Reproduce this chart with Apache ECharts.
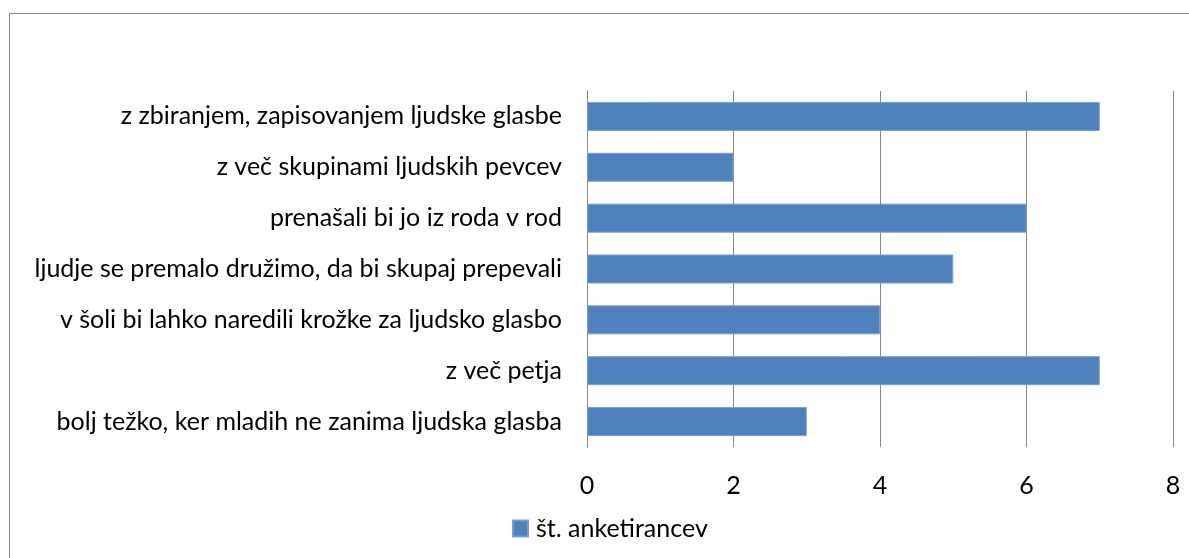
<!DOCTYPE html>
<html>
<head>
<meta charset="utf-8">
<script src="https://cdn.jsdelivr.net/npm/echarts@6/dist/echarts.min.js"></script>
<style>
  html, body { margin: 0; padding: 0; background: #fff; }
  #chart { width: 1189px; height: 558px; }
</style>
</head>
<body>
<div id="chart"></div>
<script>
// categories listed bottom -> top (ECharts category y axis starts at bottom)
const categories = [
  'bolj težko, ker mladih ne zanima ljudska glasba',
  'z več petja',
  'v šoli bi lahko naredili krožke za ljudsko glasbo',
  'ljudje se premalo družimo, da bi skupaj prepevali',
  'prenašali bi jo iz roda v rod',
  'z več skupinami ljudskih pevcev',
  'z zbiranjem, zapisovanjem ljudske glasbe'
];
const seriesName = 'št. anketirancev';
const values = [3, 7, 4, 5, 6, 2, 7];

const fontFamily = 'Lato, "Noto Sans", sans-serif';

const chart = echarts.init(document.getElementById('chart'));
chart.setOption({
  animation: false,
  textStyle: { fontFamily: fontFamily },
  graphic: [{
    type: 'rect',
    shape: { x: 9.5, y: 13.5, width: 1300, height: 700 },
    style: { fill: 'none', stroke: '#868686', lineWidth: 1 },
    silent: true
  }],
  grid: { left: 587, right: 16, top: 91, bottom: 111, containLabel: false },
  legend: {
    left: 507,
    top: 511,
    itemWidth: 15,
    itemHeight: 16,
    itemGap: 8,
    icon: 'rect',
    textStyle: { fontSize: 25, color: '#000', fontFamily: fontFamily, padding: [0, 0, 0, 3] },
    data: [seriesName]
  },
  xAxis: {
    type: 'value',
    min: 0,
    max: 8,
    interval: 2,
    axisLine: { show: false },
    axisTick: { show: false },
    axisLabel: { fontSize: 25, color: '#000', margin: 26 },
    splitLine: { show: true, lineStyle: { color: '#868686', width: 1 } }
  },
  yAxis: {
    type: 'category',
    data: categories,
    axisLine: { show: true, lineStyle: { color: '#868686', width: 1 } },
    axisTick: { show: false },
    axisLabel: { fontSize: 25, color: '#000', margin: 25 }
  },
  series: [{
    name: seriesName,
    type: 'bar',
    data: values,
    barWidth: 29,
    itemStyle: { color: '#4F81BD', borderColor: '#7A9FCF', borderWidth: 1 }
  }]
});
</script>
</body>
</html>
